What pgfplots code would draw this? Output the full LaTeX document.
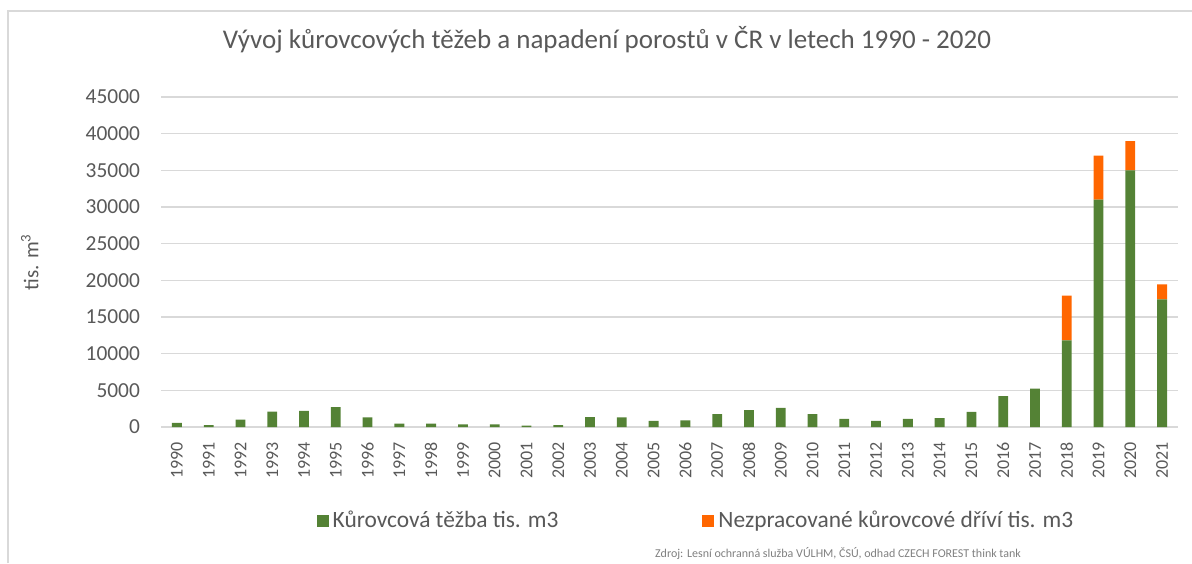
\documentclass[border=0pt]{standalone}
\usepackage{pgfplots}
\pgfplotsset{compat=1.18}
\usepackage{fontspec}
\setmainfont{Carlito}
\definecolor{tgreen}{HTML}{548235}
\definecolor{torange}{HTML}{FF6600}
\definecolor{tgrid}{HTML}{D9D9D9}
\definecolor{ttext}{HTML}{595959}
\begin{document}
\begin{tikzpicture}
\path[use as bounding box] (0,0) rectangle (596pt,281.5pt);
\draw[tgrid, line width=0.9pt] (4pt,0) -- (4pt,276pt) -- (596pt,276pt);
\begin{axis}[
  at={(80.5pt,68pt)}, anchor=south west,
  scale only axis, width=508.5pt, height=165pt,
  ybar stacked, bar width=4.9pt,
  xmin=-0.5, xmax=31.5, ymin=0, ymax=45000,
  ytick distance=5000,
  scaled y ticks=false,
  xtick=data,
  xticklabels={1990,1991,1992,1993,1994,1995,1996,1997,1998,1999,2000,2001,2002,2003,2004,2005,2006,2007,2008,2009,2010,2011,2012,2013,2014,2015,2016,2017,2018,2019,2020,2021},
  axis line style={draw=none},
  tick style={draw=none},
  ymajorgrids, grid style={tgrid, line width=0.6pt},
  /pgf/number format/1000 sep={},
  /pgf/number format/assume math mode=true,
  yticklabel style={font=\fontsize{10.7}{12}\selectfont, text=ttext},
  yticklabel shift=7pt,
  xticklabel style={rotate=90, anchor=east, font=\fontsize{9}{10}\selectfont, text=ttext},
  xticklabel shift=4pt,
  ylabel={tis. m\textsuperscript{3}},
  ylabel style={at={(axis description cs:-0.129,0.5)}, anchor=center, font=\fontsize{10.5}{12}\selectfont, text=ttext},
  title={Vývoj kůrovcových těžeb a napadení porostů v ČR v letech 1990 - 2020},
  title style={at={(axis description cs:0.4385,1.137)}, anchor=center, font=\fontsize{13.5}{15}\selectfont, text=ttext},
  legend style={at={(axis description cs:0.527,-0.285)}, anchor=center, draw=none, legend columns=2,
    font=\fontsize{11.7}{13}\selectfont, text=ttext,
    /tikz/every even column/.append style={column sep=70pt}},
  legend image code/.code={\fill[#1] (0pt,-3pt) rectangle (6pt,3pt);},
  clip=false,
]
\addplot[fill=tgreen, draw=none] coordinates {
(0,550) (1,250) (2,1000) (3,2100) (4,2200) (5,2700) (6,1300) (7,450) (8,450) (9,370)
(10,370) (11,180) (12,270) (13,1350) (14,1300) (15,820) (16,900) (17,1770) (18,2300) (19,2600)
(20,1770) (21,1100) (22,820) (23,1100) (24,1200) (25,2050) (26,4200) (27,5250) (28,11800) (29,31000)
(30,35000) (31,17400)};
\addlegendentry{Kůrovcová těžba tis. m3}
\addplot[fill=torange, draw=none] coordinates {
(0,0) (1,0) (2,0) (3,0) (4,0) (5,0) (6,0) (7,0) (8,0) (9,0)
(10,0) (11,0) (12,0) (13,0) (14,0) (15,0) (16,0) (17,0) (18,0) (19,0)
(20,0) (21,0) (22,0) (23,0) (24,0) (25,0) (26,0) (27,0) (28,6100) (29,6000)
(30,4000) (31,2050)};
\addlegendentry{Nezpracované kůrovcové dříví tis. m3}
\node[anchor=west, font=\fontsize{6}{7}\selectfont, text=gray] at (rel axis cs:0.479,-0.382) {Zdroj: Lesní ochranná služba VÚLHM, ČSÚ, odhad CZECH FOREST think tank};
\end{axis}
\end{tikzpicture}
\end{document}
